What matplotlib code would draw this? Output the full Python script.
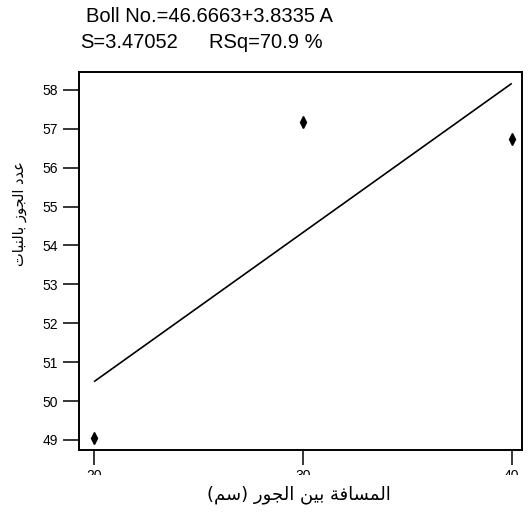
import matplotlib
matplotlib.use("Agg")
import matplotlib.pyplot as plt
import numpy as np
from matplotlib.transforms import Bbox, TransformedBbox

# ---------------- data ----------------
spacing = [20, 30, 40]                 # المسافة بين الجور (سم)
boll_no = [49.06, 57.17, 56.74]        # observed
coded_level = [1, 2, 3]                # A coded level used in fit
intercept = 46.6663
slope = 3.8335
s_value = "3.47052"
rsq_value = "70.9"
x_ticks = [20, 30, 40]
y_ticks = [49, 50, 51, 52, 53, 54, 55, 56, 57, 58]
xlabel_ar = "المسافة بين الجور (سم)"
ylabel_ar = "عدد الجوز بالنبات"

# ---------------- minimal Arabic shaping ----------------
FORMS = {
    'ا': ('\uFE8D', '\uFE8E', None, None),
    'ب': ('\uFE8F', '\uFE90', '\uFE91', '\uFE92'),
    'ت': ('\uFE95', '\uFE96', '\uFE97', '\uFE98'),
    'ة': ('\uFE93', '\uFE94', None, None),
    'ج': ('\uFE9D', '\uFE9E', '\uFE9F', '\uFEA0'),
    'د': ('\uFEA9', '\uFEAA', None, None),
    'ر': ('\uFEAD', '\uFEAE', None, None),
    'ز': ('\uFEAF', '\uFEB0', None, None),
    'س': ('\uFEB1', '\uFEB2', '\uFEB3', '\uFEB4'),
    'ع': ('\uFEC9', '\uFECA', '\uFECB', '\uFECC'),
    'ف': ('\uFED1', '\uFED2', '\uFED3', '\uFED4'),
    'ل': ('\uFEDD', '\uFEDE', '\uFEDF', '\uFEE0'),
    'م': ('\uFEE1', '\uFEE2', '\uFEE3', '\uFEE4'),
    'ن': ('\uFEE5', '\uFEE6', '\uFEE7', '\uFEE8'),
    'و': ('\uFEED', '\uFEEE', None, None),
    'ي': ('\uFEF1', '\uFEF2', '\uFEF3', '\uFEF4'),
}


def shape_rtl(text):
    out = []
    n = len(text)
    for i, ch in enumerate(text):
        if ch not in FORMS:
            out.append(ch)
            continue
        f = FORMS[ch]
        prev = text[i - 1] if i > 0 else ''
        nxt = text[i + 1] if i < n - 1 else ''
        prev_j = prev in FORMS and FORMS[prev][2] is not None
        next_j = nxt in FORMS and f[2] is not None
        if prev_j and next_j:
            out.append(f[3])
        elif prev_j:
            out.append(f[1])
        elif next_j:
            out.append(f[2])
        else:
            out.append(f[0])
    vis = ''.join(reversed(out))
    mirror = {'(': ')', ')': '('}
    return ''.join(mirror.get(c, c) for c in vis)


# ---------------- figure ----------------
W, H = 529, 519
fig = plt.figure(figsize=(W / 100, H / 100), dpi=100)
ax = fig.add_axes([79 / W, 1 - 449.7 / H, (522 - 79) / W, (449.7 - 72) / H])

num_font = ['Liberation Sans', 'DejaVu Sans']
ar_font = ['DejaVu Sans']

fit_y = intercept + slope * np.array(coded_level)
ax.plot(spacing, fit_y, color='black', lw=1.2, solid_capstyle='butt')
ax.plot(spacing, boll_no, linestyle='none', marker='d', ms=5.8,
        color='black', mec='black')

ax.set_xlim(19.28, 40.49)
ax.set_ylim(48.75, 58.46)
ax.set_xticks(x_ticks)
ax.set_yticks(y_ticks)
ax.set_xticklabels([str(v) for v in x_ticks], family=num_font, fontsize=10)
ax.set_yticklabels([str(v) for v in y_ticks], family=num_font, fontsize=10)
ax.tick_params(axis='y', direction='out', length=11.5, width=1.1, pad=3.5,
               color='black')
ax.tick_params(axis='x', direction='out', length=10.5, width=1.1, pad=3.5,
               color='black')
for sp in ax.spines.values():
    sp.set_linewidth(1.4)
    sp.set_color('black')

ax.set_xlabel(shape_rtl(xlabel_ar), family=ar_font, fontsize=13)
ax.xaxis.set_label_coords(0.497, -0.12)
ax.xaxis.label.set_va('center')
ax.set_ylabel(shape_rtl(ylabel_ar), family=ar_font, fontsize=10.5)
ax.yaxis.set_label_coords(-0.135, 0.624)
ax.yaxis.label.set_va('center')

# header lines
hfont = num_font
hsize = 14.5
fig.text(86 / W, 1 - 21.7 / H, "Boll No.=46.6663+3.8335 A",
         family=hfont, fontsize=hsize, ha='left', va='baseline')
fig.text(80 / W, 1 - 48 / H, "S=" + s_value,
         family=hfont, fontsize=hsize, ha='left', va='baseline')
fig.text(323 / W, 1 - 48 / H, "RSq=" + rsq_value + " %",
         family=hfont, fontsize=hsize, ha='right', va='baseline')

# x tick labels are cut off at the bottom in the reference
fig.canvas.draw()
clip = TransformedBbox(Bbox([[0, (H - 475) / H], [1, 1]]), fig.transFigure)
for lab in ax.xaxis.get_majorticklabels():
    lab.set_clip_box(clip)
    lab.set_clip_on(True)

fig.savefig("out.png", dpi=100)
